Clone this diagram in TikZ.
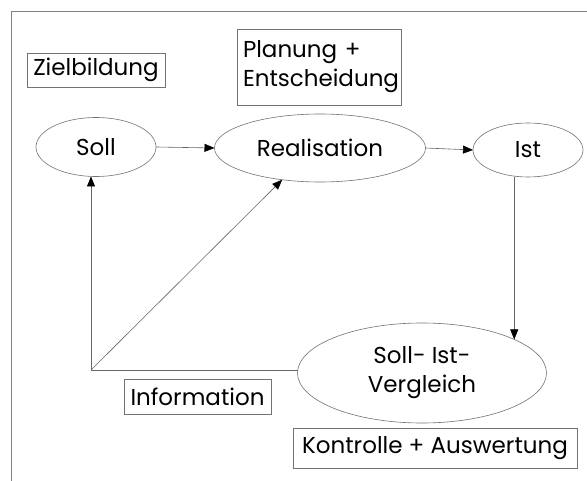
\documentclass[tikz,border=0pt]{standalone}
\usepackage{fontspec}
\setmainfont{Poppins}
\usetikzlibrary{arrows.meta,shapes.geometric}
\tikzset{
  lbl/.style={draw=black!55, line width=0.6pt, rectangle, inner sep=0pt, outer sep=0pt, font=\fontsize{23}{29}\selectfont, text=black},
  oval/.style={draw=black!55, line width=0.6pt, ellipse, inner sep=0pt, outer sep=0pt, font=\fontsize{23}{29}\selectfont, text=black},
  conn/.style={draw=black!60, line width=0.6pt},
  arr/.style={conn, -{Triangle[length=10pt,width=8pt,color=black]}},
  frame/.style={draw=black!50, line width=0.9pt}
}
\begin{document}
\begin{tikzpicture}[x=1pt,y=-1pt]
\useasboundingbox (0,0) rectangle (587,481);
\fill[white] (0,0) rectangle (587,481);
\draw[frame] (11,481) -- (11,11) -- (587,11);
\node[lbl, minimum width=138pt, minimum height=34pt] (zb) at (96,70) {Zielbildung};
\node[lbl, minimum width=164pt, minimum height=76pt, align=left, text width=152pt] (pe) at (319,67) {Planung +\\Entscheidung};
\node[oval, minimum width=120pt, minimum height=59pt] (soll) at (96,147) {Soll};
\node[oval, minimum width=211pt, minimum height=68pt] (real) at (320,148) {Realisation};
\node[oval, minimum width=110pt, minimum height=54pt] (ist) at (528,150) {Ist};
\node[oval, minimum width=249pt, minimum height=100pt, align=center] (siv) at (422,373) {Soll- Ist-\\Vergleich};
\node[lbl, minimum width=147pt, minimum height=35pt] (info) at (197.5,396.5) {Information};
\node[lbl, minimum width=284pt, minimum height=40pt] (ka) at (435,448) {Kontrolle + Auswertung};
\coordinate (c) at (91,370);
\draw[arr] (soll.east) -- (real.west);
\draw[arr] (real.east) -- (ist.west);
\draw[arr] (siv.20.5 |- ist.south) -- (siv.20.5);
\draw[conn] (c -| siv.west) -- (c);
\draw[arr] (c) -- (c |- soll.south);
\draw[arr] (c) -- (real.220);
\end{tikzpicture}
\end{document}
